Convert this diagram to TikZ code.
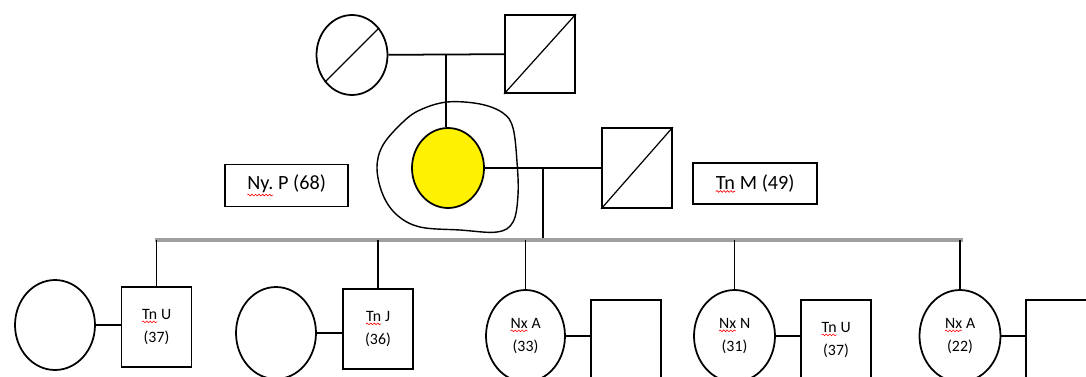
\documentclass[tikz,border=0pt]{standalone}
\usepackage{fontspec}
\setmainfont{Carlito}
\usepackage{tikz}
\usetikzlibrary{shapes}
\usetikzlibrary{decorations.pathmorphing}

% red wavy underline of the spell checker
\newcommand{\spellerr}[1]{\tikz[baseline=(w.base)]{%
    \node[shape=rectangle, draw=none, fill=none, inner sep=0pt, outer sep=0pt,
          minimum width=0pt, minimum height=0pt] (w) {#1};
    \draw[red, line width=.35pt, decorate,
          decoration={snake, amplitude=.5pt, segment length=2pt}]
        ([yshift=-1.3pt]w.south west) -- ([yshift=-1.3pt]w.south east);}}

\tikzset{
    line/.style={line width=1pt},
    female/.style={ellipse, draw, line width=1pt, inner sep=0pt,
        minimum width=1.6cm, minimum height=1.84cm, align=center,
        font=\fontsize{9}{13}\selectfont},
    male/.style={rectangle, draw, line width=1pt, inner sep=0pt,
        minimum width=1.4cm, minimum height=1.6cm, align=center,
        font=\fontsize{9}{13}\selectfont},
    namebox/.style={rectangle, draw, line width=1pt, inner sep=0pt,
        minimum width=2.47cm, minimum height=.84cm,
        font=\fontsize{11.5}{14}\selectfont},
    sibship/.style={line width=2.2pt, gray!75}
}

\begin{document}
\begin{tikzpicture}[x=0.02cm, y=-0.02cm]
    \useasboundingbox (0,0) rectangle (1086,376);
    \clip (0,0) rectangle (1086,376);

    % grandparents
    \node[female, minimum width=1.42cm, minimum height=1.6cm] (gmother) at (352,55) {};
    \draw[line width=.7pt] (gmother.225) -- (gmother.45);
    \node[male, minimum height=1.56cm] (gfather) at (540,54) {};
    \draw[line width=.7pt] (gfather.south west) -- (gfather.north east);
    \draw[line] (gmother) -- (gfather);

    % proband
    \draw[line width=.8pt] plot[smooth cycle, tension=.6] coordinates {
        (420,110) (447,102) (480,104) (503,113) (513,128) (517,162)
        (518,195) (513,222) (497,232) (460,230) (420,227) (397,215)
        (383,195) (377,168) (383,145) (403,122)};
    \node[female, fill=yellow, minimum width=1.44cm, minimum height=1.6cm] (proband) at (448,168) {};
    \coordinate (gline) at (446,54);
    \draw[line] (gline) -- (gline |- proband.north);

    \node[male] (husband) at (637,168) {};
    \draw[line width=.7pt] (husband.south west) -- (husband.north east);
    \draw[line] (proband) -- (husband);

    \node[namebox] (lbl1) at (286.5,185.5) {\spellerr{Ny.} P (68)};
    \node[namebox, minimum height=.82cm] (lbl2) at (755,183.5) {\spellerr{Tn} M (49)};

    % sibship
    \coordinate (pline) at (543,168);
    \coordinate (sibL) at (157,240);
    \coordinate (sibR) at (961,240);
    \draw[line] (pline) -- (pline |- sibL);
    \draw[sibship] ([xshift=-1pt]sibL) -- ([xshift=1pt]sibR);

    % children and spouses
    \node[male] (child1) at (156.5,327) {\spellerr{Tn} U\\(37)};
    \node[female, minimum height=1.8cm] (wife1) at (55,325) {};
    \draw[line] (wife1) -- (wife1 -| child1.west);

    \node[male] (child2) at (378,329) {\spellerr{Tn} J\\(36)};
    \node[female] (wife2) at (276,333) {};
    \draw[line] (wife2) -- (wife2 -| child2.west);

    \node[female, minimum width=1.58cm] (child3) at (525.5,336) {\spellerr{Nx} A\\(33)};
    \node[male] (hus3) at (626,340) {};
    \draw[line] (child3) -- (child3 -| hus3.west);

    \node[female, minimum width=1.62cm] (child4) at (734.5,336) {\spellerr{Nx} N\\(31)};
    \node[male] (hus4) at (836,340) {\spellerr{Tn} U\\(37)};
    \draw[line] (child4) -- (child4 -| hus4.west);

    \node[female, minimum width=1.62cm] (child5) at (960,336) {\spellerr{Nx} A\\(22)};
    \node[male] (hus5) at (1061,340) {};
    \draw[line] (child5) -- (child5 -| hus5.west);

    \foreach \c in {child1, child2, child3, child4, child5}
        \draw[line] (\c.north |- sibL) -- (\c.north);
\end{tikzpicture}
\end{document}
